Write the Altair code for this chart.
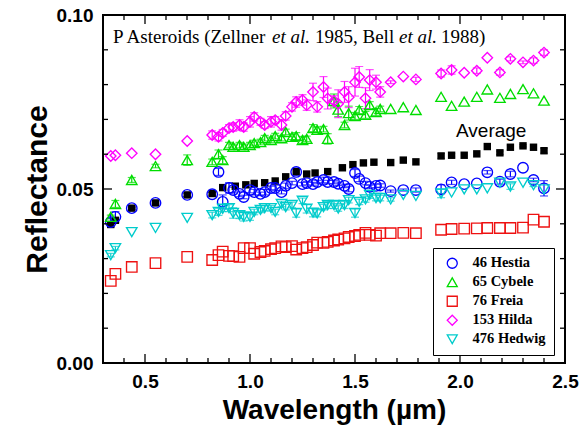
import altair as alt
import pandas as pd

# ---------------- data ----------------
SERIES = ["46 Hestia", "65 Cybele", "76 Freia", "153 Hilda", "476 Hedwig"]
COLORS = ["#0000ff", "#00dd00", "#ee1111", "#ff00ff", "#00cccc"]
SHAPES = ["circle", "triangle-up", "square", "diamond", "triangle-down"]

wl_ecas = [0.337, 0.359, 0.437, 0.550, 0.701]
wl_vis = [0.82, 0.85, 0.87, 0.90, 0.92, 0.95, 0.97, 1.00, 1.02, 1.05, 1.07,
          1.10, 1.12, 1.15, 1.17, 1.20, 1.22, 1.25, 1.27, 1.30, 1.32, 1.35,
          1.37, 1.40, 1.42, 1.45, 1.47, 1.50, 1.52, 1.55, 1.57, 1.60, 1.62]
wl_ir = [1.67, 1.73, 1.79, 1.91, 1.96, 2.02, 2.08, 2.13, 2.19, 2.24, 2.30, 2.35, 2.40]

hestia_ecas = [0.0405, 0.0420, 0.0445, 0.0460, 0.0483]
hestia_vis = [0.0485, 0.0549, 0.0463, 0.0503, 0.0497, 0.0486, 0.0477, 0.0497, 0.0491, 0.0486, 0.0491,
              0.0503, 0.0503, 0.0491, 0.0509, 0.0517, 0.0549, 0.0514, 0.0517, 0.0514, 0.0520, 0.0526,
              0.0520, 0.0520, 0.0515, 0.0509, 0.0500, 0.0546, 0.0529, 0.0517, 0.0506, 0.0509, 0.0510]
hestia_ir = [0.0494, 0.0497, 0.0497, 0.0499, 0.0519, 0.0514, 0.0516, 0.0548, 0.0521, 0.0543, 0.0561, 0.0526, 0.0502]
hestia_err_ecas = [0.0010, 0.0015, 0.0003, 0.0003, 0.0005]
hestia_err_vis = [0.0005, 0.0010, 0.0020, 0.0015, 0.0008, 0.0008, 0.0005, 0.0008, 0.0008, 0.0005, 0.0008,
                  0.0005, 0.0008, 0.0005, 0.0008, 0.0005, 0.0010, 0.0005, 0.0005, 0.0005, 0.0005, 0.0008,
                  0.0005, 0.0005, 0.0005, 0.0005, 0.0008, 0.0010, 0.0008, 0.0005, 0.0005, 0.0005, 0.0005]
hestia_err_ir = [0.0003, 0.0003, 0.0006, 0.0013, 0.0006, 0.0, 0.0, 0.0005, 0.0007, 0.0008, 0.0, 0.0005, 0.0022]

cybele_ecas = [0.0420, 0.0457, 0.0526, 0.0566, 0.0583]
cybele_vis = [0.0578, 0.0600, 0.0583, 0.0626, 0.0621, 0.0626, 0.0621, 0.0626, 0.0632, 0.0635, 0.0646,
              0.0641, 0.0652, 0.0646, 0.0664, 0.0650, 0.0652, 0.0641, 0.0644, 0.0675, 0.0670, 0.0672,
              0.0644, 0.0753, 0.0728, 0.0684, 0.0718, 0.0710, 0.0727, 0.0713, 0.0741, 0.0721, 0.0730]
cybele_ir = [0.0730, 0.0735, 0.0727, 0.0765, 0.0739, 0.0751, 0.0765, 0.0786, 0.0762, 0.0773, 0.0787, 0.0775, 0.0754]
cybele_err_ecas = [0.0005, 0.0010, 0.0007, 0.0005, 0.0015]
cybele_err_vis = [0.0008, 0.0012, 0.0010, 0.0008, 0.0008, 0.0008, 0.0008, 0.0008, 0.0008, 0.0008, 0.0008,
                  0.0008, 0.0008, 0.0008, 0.0008, 0.0008, 0.0010, 0.0010, 0.0008, 0.0010, 0.0008, 0.0008,
                  0.0015, 0.0020, 0.0020, 0.0008, 0.0020, 0.0010, 0.0010, 0.0010, 0.0010, 0.0010, 0.0008]
cybele_err_ir = [0.0, 0.0, 0.0, 0.0, 0.0, 0.0, 0.0, 0.0, 0.0, 0.0, 0.0, 0.0, 0.0]

freia_ecas = [0.0236, 0.0256, 0.0276, 0.0287, 0.0305]
freia_vis = [0.0296, 0.0310, 0.0320, 0.0308, 0.0307, 0.0305, 0.0330, 0.0330, 0.0314, 0.0319, 0.0322,
             0.0327, 0.0330, 0.0335, 0.0333, 0.0336, 0.0326, 0.0330, 0.0333, 0.0339, 0.0346, 0.0345,
             0.0348, 0.0352, 0.0355, 0.0358, 0.0362, 0.0365, 0.0368, 0.0374, 0.0368, 0.0366, 0.0373]
freia_ir = [0.0373, 0.0374, 0.0373, 0.0383, 0.0385, 0.0386, 0.0387, 0.0388, 0.0388, 0.0388, 0.0389, 0.0412, 0.0406]

hilda_ecas = [0.0595, 0.0597, 0.0603, 0.0600, 0.0638]
hilda_vis = [0.0655, 0.0650, 0.0661, 0.0675, 0.0678, 0.0684, 0.0678, 0.0693, 0.0707, 0.0693, 0.0684,
             0.0693, 0.0698, 0.0684, 0.0710, 0.0736, 0.0750, 0.0756, 0.0741, 0.0779, 0.0736, 0.0793,
             0.0760, 0.0753, 0.0745, 0.0779, 0.0764, 0.0807, 0.0822, 0.0761, 0.0813, 0.0807, 0.0779]
hilda_ir = [0.0807, 0.0823, 0.0815, 0.0832, 0.0842, 0.0834, 0.0840, 0.0877, 0.0835, 0.0874, 0.0864, 0.0869, 0.0892]
hilda_err_ecas = [0.0, 0.0, 0.0, 0.0, 0.0]
hilda_err_vis = [0.0012, 0.0012, 0.0010, 0.0010, 0.0012, 0.0015, 0.0012, 0.0015, 0.0012, 0.0010, 0.0010,
                 0.0015, 0.0010, 0.0015, 0.0012, 0.0012, 0.0015, 0.0015, 0.0015, 0.0025, 0.0015, 0.0030,
                 0.0030, 0.0015, 0.0040, 0.0030, 0.0030, 0.0040, 0.0030, 0.0030, 0.0030, 0.0020, 0.0015]
hilda_err_ir = [0.0004, 0.0, 0.0006, 0.0010, 0.0012, 0.0, 0.0008, 0.0, 0.0008, 0.0006, 0.0004, 0.0008, 0.0008]

hedwig_ecas = [0.0310, 0.0330, 0.0376, 0.0388, 0.0417]
hedwig_vis = [0.0425, 0.0434, 0.0443, 0.0445, 0.0431, 0.0425, 0.0420, 0.0420, 0.0434, 0.0440, 0.0445,
              0.0445, 0.0434, 0.0457, 0.0448, 0.0454, 0.0431, 0.0466, 0.0443, 0.0432, 0.0430, 0.0448,
              0.0454, 0.0454, 0.0444, 0.0454, 0.0468, 0.0431, 0.0463, 0.0470, 0.0483, 0.0474, 0.0474]
hedwig_ir = [0.0470, 0.0483, 0.0480, 0.0487, 0.0490, 0.0499, 0.0499, 0.0502, 0.0518, 0.0507, 0.0518, 0.0511, 0.0499]
hedwig_err_ecas = [0.0005, 0.0005, 0.0, 0.0, 0.0]
hedwig_err_vis = [0.0008, 0.0010, 0.0008, 0.0010, 0.0015, 0.0010, 0.0012, 0.0010, 0.0008, 0.0008, 0.0008,
                  0.0008, 0.0008, 0.0008, 0.0008, 0.0008, 0.0012, 0.0008, 0.0012, 0.0012, 0.0010, 0.0008,
                  0.0010, 0.0010, 0.0008, 0.0010, 0.0008, 0.0012, 0.0008, 0.0008, 0.0010, 0.0008, 0.0008]
hedwig_err_ir = [0.0005, 0.0, 0.0, 0.0012, 0.0, 0.0, 0.0, 0.0, 0.0, 0.0008, 0.0, 0.0004, 0.0]

wl_avg_vis = [0.82, 0.87, 0.93, 0.98, 1.02, 1.07, 1.12, 1.17, 1.22, 1.27, 1.31, 1.37, 1.44, 1.49, 1.54, 1.59]
avg_ecas = [0.0398, 0.0410, 0.0445, 0.0460, 0.0483]
avg_vis = [0.0487, 0.0504, 0.0508, 0.0512, 0.0516, 0.0518, 0.0523, 0.0535, 0.0550, 0.0543, 0.0546,
           0.0550, 0.0561, 0.0570, 0.0575, 0.0577]
avg_ir = [0.0576, 0.0583, 0.0578, 0.0595, 0.0597, 0.0597, 0.0601, 0.0622, 0.0604, 0.0620, 0.0624, 0.0620, 0.0610]
avg_err_ecas = [0.0007, 0.0005, 0.0003, 0.0003, 0.0005]
avg_err_vis = [0.0004, 0.0, 0.0, 0.0, 0.0, 0.0, 0.0, 0.0, 0.0, 0.0, 0.0, 0.0, 0.0, 0.0, 0.0, 0.0]
avg_err_ir = [0.0, 0.0, 0.0, 0.0007, 0.0005, 0.0, 0.0, 0.0, 0.0005, 0.0006, 0.0003, 0.0005, 0.0007]

x_major = [0.5, 1.0, 1.5, 2.0]
x_minor = [0.4, 0.6, 0.7, 0.8, 0.9, 1.1, 1.2, 1.3, 1.4, 1.6, 1.7, 1.8, 1.9, 2.1, 2.2, 2.3, 2.4]
y_major = [0.05]
y_minor = [0.01, 0.02, 0.03, 0.04, 0.06, 0.07, 0.08, 0.09]

# ---------------- tables ----------------
spectra = {
    "46 Hestia": (hestia_ecas + hestia_vis + hestia_ir, hestia_err_ecas + hestia_err_vis + hestia_err_ir),
    "65 Cybele": (cybele_ecas + cybele_vis + cybele_ir, cybele_err_ecas + cybele_err_vis + cybele_err_ir),
    "76 Freia": (freia_ecas + freia_vis + freia_ir, None),
    "153 Hilda": (hilda_ecas + hilda_vis + hilda_ir, hilda_err_ecas + hilda_err_vis + hilda_err_ir),
    "476 Hedwig": (hedwig_ecas + hedwig_vis + hedwig_ir, hedwig_err_ecas + hedwig_err_vis + hedwig_err_ir),
}
wl_all = wl_ecas + wl_vis + wl_ir
rows = []
for name in SERIES:
    vals, errs = spectra[name]
    for i, (w, r) in enumerate(zip(wl_all, vals)):
        e = errs[i] if errs is not None else 0.0
        rows.append({"series": name, "wl": w, "refl": r, "lo": r - e, "hi": r + e, "err": e})
df = pd.DataFrame(rows)

wl_avg = wl_ecas + wl_avg_vis + wl_ir
avg_vals = avg_ecas + avg_vis + avg_ir
avg_errs = avg_err_ecas + avg_err_vis + avg_err_ir
df_avg = pd.DataFrame({"wl": wl_avg, "refl": avg_vals,
                       "lo": [v - e for v, e in zip(avg_vals, avg_errs)],
                       "hi": [v + e for v, e in zip(avg_vals, avg_errs)],
                       "err": avg_errs})
df_avg_err = df_avg[df_avg["err"] > 0]

# ---------------- chart ----------------
W, H = 462, 348
SANS = "Liberation Sans"
SERIF = "Liberation Serif"

xs = alt.Scale(domain=[0.3, 2.5], nice=False, zero=False)
ys = alt.Scale(domain=[0.0, 0.1], nice=False, zero=False)
x_axis = alt.Axis(values=[0.5, 1.0, 1.5, 2.0, 2.5], format=".1f", title="Wavelength (µm)",
                  ticks=False, grid=False, domain=False, labelFlush=False,
                  labelFont=SANS, labelFontSize=19, labelFontWeight="bold", labelColor="black",
                  labelPadding=9, titleFont=SANS, titleFontSize=28, titleFontWeight="bold",
                  titleColor="black", titleY=55, titleBaseline="alphabetic")
y_axis = alt.Axis(values=[0.0, 0.05, 0.1], format=".2f", title="Reflectance",
                  ticks=False, grid=False, domain=False,
                  labelFont=SANS, labelFontSize=19, labelFontWeight="bold", labelColor="black",
                  labelPadding=10, titleFont=SANS, titleFontSize=30, titleFontWeight="bold",
                  titleColor="black", titleX=-57, titleBaseline="alphabetic")


def X(field="wl"):
    return alt.X(f"{field}:Q", scale=xs, axis=x_axis)


def Y(field="refl"):
    return alt.Y(f"{field}:Q", scale=ys, axis=y_axis)


legend = alt.Legend(orient="none", legendX=330, legendY=233, title=None, padding=8,
                    strokeColor="black", fillColor="white",
                    labelFont=SERIF, labelFontWeight="bold", labelFontSize=14.5, labelColor="black",
                    symbolSize=100, symbolStrokeWidth=1.3, rowPadding=3, labelOffset=13,
                    symbolOffset=4)
color_leg = alt.Color("series:N", scale=alt.Scale(domain=SERIES, range=COLORS), legend=legend)
shape_leg = alt.Shape("series:N", scale=alt.Scale(domain=SERIES, range=SHAPES), legend=legend)

# error bars, one set of layers per series with a fixed colour
err_layers = []
for name, col in zip(SERIES, COLORS):
    d = df[(df["series"] == name) & (df["err"] > 0)]
    if len(d) == 0:
        continue
    err_layers.append(alt.Chart(d).mark_rule(strokeWidth=1.2, color=col).encode(
        x=X(), y=Y("lo"), y2="hi:Q"))
    err_layers.append(alt.Chart(d).mark_tick(orient="horizontal", size=8, thickness=1.2, color=col).encode(
        x=X(), y=Y("lo")))
    err_layers.append(alt.Chart(d).mark_tick(orient="horizontal", size=8, thickness=1.2, color=col).encode(
        x=X(), y=Y("hi")))

points = alt.Chart(df).mark_point(filled=False, size=110, strokeWidth=1.35, opacity=1).encode(
    x=X(), y=Y(), color=color_leg, shape=shape_leg)

avg_rule = alt.Chart(df_avg_err).mark_rule(strokeWidth=1.2, color="black").encode(
    x=X(), y=Y("lo"), y2="hi:Q")
avg_cap_lo = alt.Chart(df_avg_err).mark_tick(orient="horizontal", size=7, thickness=1.2, color="black").encode(
    x=X(), y=Y("lo"))
avg_cap_hi = alt.Chart(df_avg_err).mark_tick(orient="horizontal", size=7, thickness=1.2, color="black").encode(
    x=X(), y=Y("hi"))
avg_pts = alt.Chart(df_avg).mark_square(filled=True, size=55, color="black", opacity=1).encode(
    x=X(), y=Y())

# inward frame ticks
tick_layers = []
for vals, ln in ((x_major, 9), (x_minor, 5)):
    d = pd.DataFrame({"wl": vals})
    base = alt.Chart(d).mark_rule(color="black", strokeWidth=1.3)
    tick_layers.append(base.encode(x=X(), y=alt.value(H), y2=alt.value(H - ln)))
    tick_layers.append(base.encode(x=X(), y=alt.value(0), y2=alt.value(ln)))
for vals, ln in ((y_major, 9), (y_minor, 5)):
    d = pd.DataFrame({"refl": vals})
    base = alt.Chart(d).mark_rule(color="black", strokeWidth=1.3)
    tick_layers.append(base.encode(y=Y(), x=alt.value(0), x2=alt.value(ln)))
    tick_layers.append(base.encode(y=Y(), x=alt.value(W), x2=alt.value(W - ln)))

# annotations
title_parts = [("P Asteroids (Zellner", "normal", 10), ("et al.", "italic", 169),
               ("1985, Bell", "normal", 212), ("et al.", "italic", 296), ("1988)", "normal", 338)]
text_layers = []
for txt, style, xpos in title_parts:
    text_layers.append(
        alt.Chart(pd.DataFrame({"t": [txt]})).mark_text(
            font=SERIF, fontSize=19, fontStyle=style, align="left", baseline="alphabetic",
            color="black").encode(text="t:N", x=alt.value(xpos), y=alt.value(28)))
text_layers.append(
    alt.Chart(pd.DataFrame({"t": ["Average"]})).mark_text(
        font=SANS, fontSize=19, align="left", baseline="alphabetic", color="black"
    ).encode(text="t:N", x=alt.value(353), y=alt.value(122)))

chart = alt.layer(
    *err_layers, avg_rule, avg_cap_lo, avg_cap_hi, avg_pts, points,
    *tick_layers, *text_layers
).properties(
    width=W, height=H,
    autosize=alt.AutoSizeParams(type="none"),
    padding={"left": 103, "top": 15, "right": 19, "bottom": 68},
    background="white",
).configure_view(stroke="black", strokeWidth=2)

chart.save("out.html", embed_options={"renderer": "svg", "actions": False})
